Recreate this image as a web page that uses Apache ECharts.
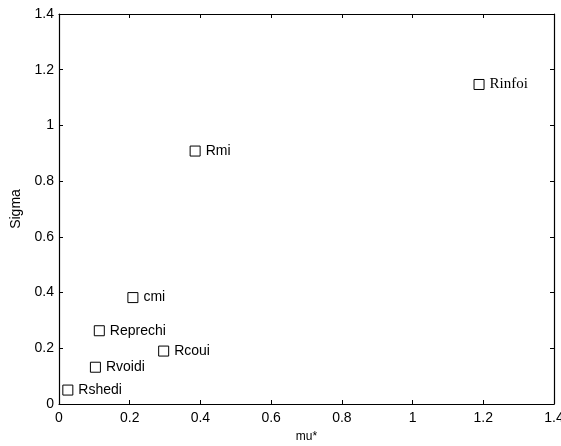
<!DOCTYPE html>
<html><head><meta charset="utf-8">
<script src="https://cdn.jsdelivr.net/npm/echarts@6/dist/echarts.min.js"></script>
<style>html,body{margin:0;padding:0;background:#fff}#c{width:561px;height:446px}</style>
</head><body><div id="c"></div>
<script>
const names = ['Rinfoi','Rmi','cmi','Reprechi','Rcoui','Rvoidi','Rshedi'];
const muStar = [1.188, 0.385, 0.209, 0.114, 0.296, 0.103, 0.025];
const sigma = [1.147, 0.908, 0.382, 0.263, 0.190, 0.132, 0.050];
const xTicks = [0, 0.2, 0.4, 0.6, 0.8, 1, 1.2, 1.4];
const yTicks = [0, 0.2, 0.4, 0.6, 0.8, 1, 1.2, 1.4];

const font = 'Liberation Sans, Arial, Helvetica, sans-serif';
const data = names.map((n, i) => ({
  name: n,
  value: [muStar[i], sigma[i]],
  label: n === 'Rinfoi' ? {fontFamily: 'Liberation Serif, Times New Roman, serif', fontSize: 15} : {}
}));
function fmt(v){ return String(Math.round(v*10)/10); }
function tick(){ return {show:true, inside:true, length:4, lineStyle:{color:'#000', width:1}}; }
function line(){ return {show:true, onZero:false, lineStyle:{color:'#000', width:1.2}}; }
const chart = echarts.init(document.getElementById('c'), null, {renderer:'canvas'});
chart.setOption({
  animation:false,
  backgroundColor:'#fff',
  grid:{left:59, right:7, top:14, bottom:42, containLabel:false, outerBoundsMode:'none'},
  xAxis:[{
    type:'value', position:'bottom', min:xTicks[0], max:xTicks[xTicks.length-1], interval:0.2,
    name:'mu*', nameLocation:'middle', nameGap:27,
    nameTextStyle:{color:'#000', fontFamily:font, fontSize:12},
    axisLine:line(), axisTick:tick(), splitLine:{show:false},
    axisLabel:{color:'#000', fontFamily:font, fontSize:14, margin:7, formatter:fmt}
  },{
    type:'value', position:'top', min:xTicks[0], max:xTicks[xTicks.length-1], interval:0.2,
    axisLine:line(), axisTick:tick(), splitLine:{show:false}, axisLabel:{show:false}
  }],
  yAxis:[{
    type:'value', position:'left', min:yTicks[0], max:yTicks[yTicks.length-1], interval:0.2,
    name:'Sigma', nameLocation:'middle', nameGap:36,
    nameTextStyle:{color:'#000', fontFamily:font, fontSize:14},
    axisLine:line(), axisTick:tick(), splitLine:{show:false},
    axisLabel:{color:'#000', fontFamily:font, fontSize:14, margin:5, formatter:fmt}
  },{
    type:'value', position:'right', min:yTicks[0], max:yTicks[yTicks.length-1], interval:0.2,
    axisLine:line(), axisTick:tick(), splitLine:{show:false}, axisLabel:{show:false}
  }],
  series:[{
    type:'scatter', xAxisIndex:0, yAxisIndex:0, symbol:'rect', symbolSize:10,
    itemStyle:{color:'#fff', borderColor:'#000', borderWidth:1, opacity:1},
    label:{show:true, position:'right', distance:5, formatter:'{b}', color:'#000', fontFamily:font, fontSize:14},
    data:data
  },{
    type:'scatter', xAxisIndex:1, yAxisIndex:1, data:[], silent:true
  }]
});
</script></body></html>
